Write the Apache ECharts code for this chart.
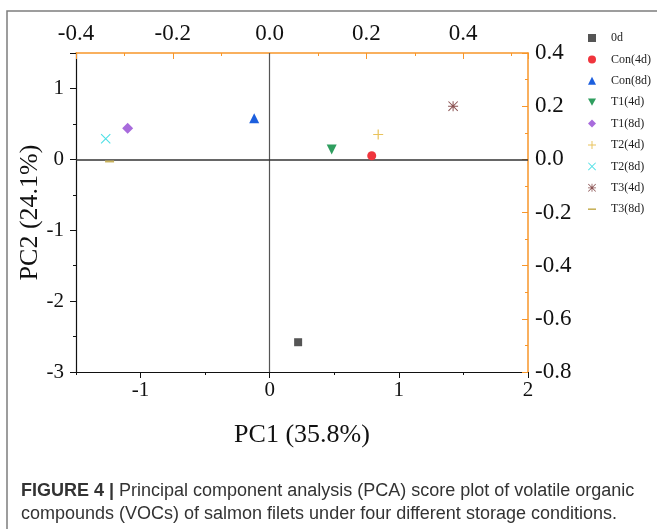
<!DOCTYPE html>
<html>
<head>
<meta charset="utf-8">
<script src="https://cdn.jsdelivr.net/npm/echarts@6/dist/echarts.min.js"></script>
<style>
  html, body { margin: 0; padding: 0; background: #fff; }
  #pca { width: 657px; height: 529px; }
</style>
</head>
<body>
<div id="pca"></div>
<script>
// sample groups and their PCA scores
var groups = ['0d', 'Con(4d)', 'Con(8d)', 'T1(4d)', 'T1(8d)', 'T2(4d)', 'T2(8d)', 'T3(4d)', 'T3(8d)'];
var pc1 = [0.22, 0.79, -0.12, 0.48, -1.10, 0.84, -1.27, 1.42, -1.24];
var pc2 = [-2.58, 0.05, 0.58, 0.14, 0.44, 0.35, 0.29, 0.75, -0.03];

// bottom axis ticks
var pc1Ticks = [-1, 0, 1, 2];
var pc1MinorTicks = [-1.5, -0.5, 0.5, 1.5];

var colors = ['#555555', '#f0353d', '#1c5fde', '#2f9e5f', '#a86bdc', '#e9c35c', '#4fe0e6', '#8a5252', '#c8b25c'];
var symbols = [
    'rect',
    'circle',
    'triangle',
    'path://M0,0L10,0L5,9Z',
    'diamond',
    'path://M4.4,0H5.6V4.4H10V5.6H5.6V10H4.4V5.6H0V4.4H4.4Z',
    'path://M0,0.8L0.8,0L10,9.2L9.2,10Z M9.2,0L10,0.8L0.8,10L0,9.2Z',
    'path://M4.5,0H5.5V4.5H10V5.5H5.5V10H4.5V5.5H0V4.5H4.5Z M0,0.7L0.7,0L10,9.3L9.3,10Z M9.3,0L10,0.7L0.7,10L0,9.3Z',
    'path://M0,0H10V1.6H0Z'
];
var sizes = [8, 9, 10, 10, 11, 10, 10, 10, [9, 2]];

var dom_pca = document.getElementById('pca');
var myChart_pca = echarts.init(dom_pca, null, {renderer: 'canvas'});

var serif = 'Liberation Serif';
var orange = '#f7962a';

var series = groups.map(function (g, i) {
    var s = {
        name: g,
        type: 'scatter',
        xAxisIndex: 0,
        yAxisIndex: 0,
        symbol: symbols[i],
        symbolSize: sizes[i],
        itemStyle: {color: colors[i], opacity: 1},
        data: [[pc1[i], pc2[i]]],
        z: 5
    };
    return s;
});

// origin cross lines
series[0].markLine = {
    silent: true,
    symbol: 'none',
    label: {show: false},
    animation: false,
    data: [
        {xAxis: 0, lineStyle: {color: '#555', width: 1.2, type: 'solid'}},
        {yAxis: 0, lineStyle: {color: '#333', width: 1.5, type: 'solid'}}
    ]
};

var option = {
    animation: false,
    color: colors,
    grid: {left: 76, right: 129, top: 53, bottom: 157},
    legend: {
        orient: 'vertical',
        left: 583,
        top: 27,
        itemWidth: 8,
        itemHeight: 8,
        itemGap: 9.4,
        textStyle: {fontFamily: serif, fontSize: 12, color: '#222', padding: [0, 0, 0, 10]},
        data: groups.map(function (g, i) {
            return {name: g, icon: i === 8 ? 'path://M0,0H10V2H0Z' : symbols[i]};
        })
    },
    xAxis: [
        {
            type: 'value',
            position: 'bottom',
            min: -1.5,
            max: 2,
            name: 'PC1 (35.8%)',
            nameLocation: 'middle',
            nameGap: 50,
            nameTextStyle: {fontFamily: serif, fontSize: 26, color: '#111'},
            splitLine: {show: false},
            axisLine: {onZero: false, lineStyle: {color: '#111', width: 1.2}},
            axisTick: {customValues: pc1Ticks, length: 6, lineStyle: {color: '#111'}},
            axisLabel: {customValues: pc1Ticks, fontFamily: serif, fontSize: 21, color: '#111', margin: 8}
        },
        {
            type: 'value',
            position: 'top',
            min: -0.4,
            max: 0.534,
            interval: 0.2,
            splitLine: {show: false},
            axisLine: {onZero: false, lineStyle: {color: orange, width: 1.5}},
            axisTick: {inside: true, length: 6, lineStyle: {color: orange}},
            minorTick: {show: true, splitNumber: 2, length: 3, lineStyle: {color: orange}},
            axisLabel: {
                showMaxLabel: false,
                fontFamily: serif, fontSize: 23, color: '#111', margin: 8,
                formatter: function (v) { return v.toFixed(1); }
            }
        },
        {
            type: 'value',
            position: 'bottom',
            min: -1.5,
            max: 2,
            splitLine: {show: false},
            axisLine: {show: false, onZero: false},
            axisTick: {customValues: pc1MinorTicks, length: 3, lineStyle: {color: '#111'}},
            axisLabel: {show: false}
        }
    ],
    yAxis: [
        {
            type: 'value',
            position: 'left',
            min: -3,
            max: 1.5,
            interval: 1,
            name: 'PC2 (24.1%)',
            nameLocation: 'middle',
            nameGap: 33,
            nameMoveOverlap: false,
            nameTextStyle: {fontFamily: serif, fontSize: 26, color: '#111'},
            splitLine: {show: false},
            axisLine: {onZero: false, lineStyle: {color: '#111', width: 1.2}},
            axisTick: {length: 6, lineStyle: {color: '#111'}},
            minorTick: {show: true, splitNumber: 2, length: 3, lineStyle: {color: '#111'}},
            axisLabel: {showMaxLabel: false, fontFamily: serif, fontSize: 21, color: '#111', margin: 12}
        },
        {
            type: 'value',
            position: 'right',
            min: -0.8,
            max: 0.4,
            interval: 0.2,
            splitLine: {show: false},
            axisLine: {onZero: false, lineStyle: {color: orange, width: 1.5}},
            axisTick: {inside: true, length: 6, lineStyle: {color: orange}},
            minorTick: {show: true, splitNumber: 2, length: 3, lineStyle: {color: orange}},
            axisLabel: {
                fontFamily: serif, fontSize: 23, color: '#111', margin: 7,
                formatter: function (v) { return v.toFixed(1); }
            }
        }
    ],
    graphic: [
        {
            type: 'rect',
            silent: true,
            z: -1,
            shape: {x: 7, y: 11, width: 700, height: 600},
            style: {fill: 'none', stroke: '#7d7d7d', lineWidth: 1.5}
        },
        {
            type: 'text',
            left: 21,
            top: 480,
            silent: true,
            style: {
                text: '{b|FIGURE 4 |} Principal component analysis (PCA) score plot of volatile organic\ncompounds (VOCs) of salmon filets under four different storage conditions.',
                fontFamily: 'Liberation Sans',
                fontSize: 18,
                lineHeight: 23,
                fill: '#333',
                rich: {
                    b: {fontFamily: 'Liberation Sans', fontSize: 18, fontWeight: 'bold', fill: '#333'}
                }
            }
        }
    ],
    series: series
};

if (option && typeof option === 'object') {
    myChart_pca.setOption(option, true);
}
</script>
</body>
</html>
